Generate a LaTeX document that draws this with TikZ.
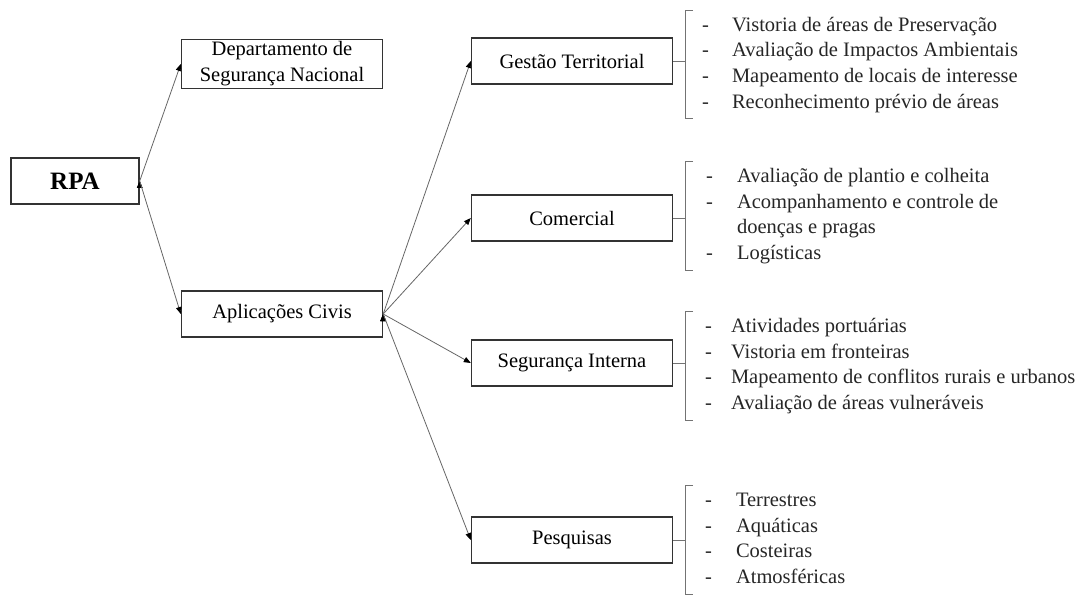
\documentclass[tikz,border=0pt]{standalone}
\usepackage{fontspec}
\setmainfont{Liberation Serif}
\usetikzlibrary{arrows.meta,positioning}

\begin{document}
\begin{tikzpicture}[x=1pt,y=-1pt]

  \tikzset{caixa/.style={rectangle, draw=black!80, line width=1.4pt,
  		text centered, align=center, minimum width=201pt, minimum height=46pt,
  		inner sep=2pt, font=\fontsize{20.5}{26}\selectfont}, }
  \tikzset{lista/.style={anchor=west, inner xsep=0pt, inner ysep=3pt,
  		text=black!85, font=\fontsize{20.5}{25.6}\selectfont}, }
  \tikzset{linea/.style={-{Triangle[length=7pt,width=5.5pt,black]}, draw=black!60, line width=0.8pt}, }
  \tikzset{chave/.style={draw=black!55, line width=0.8pt}, }

  \useasboundingbox (0,0) rectangle (1092,596);

   \node[caixa, minimum width=128pt, font=\bfseries\fontsize{25}{30}\selectfont] (rpa) at (75,181) {RPA};
   \node[caixa] (dsn) at (282,64) {Departamento de\\Segurança Nacional};
   \node[caixa] (civ) at (282,314) {Aplicações Civis};
   \node[caixa] (gt) at (572,61) {Gestão Territorial};
   \node[caixa] (com) at (572,218) {Comercial};
   \node[caixa] (seg) at (572,363) {Segurança Interna};
   \node[caixa] (pesq) at (572,540) {Pesquisas};
%
   \node[lista] (gtl) at (685,64.5) {\begin{tabular}{@{\hspace{17pt}}l@{\hspace{23pt}}l@{}}
     - & Vistoria de áreas de Preservação\\
     - & Avaliação de Impactos Ambientais\\
     - & Mapeamento de locais de interesse\\
     - & Reconhecimento prévio de áreas
   \end{tabular}};
   \node[lista] (coml) at (685,216) {\begin{tabular}{@{\hspace{21pt}}l@{\hspace{24pt}}l@{}}
     - & Avaliação de plantio e colheita\\
     - & Acompanhamento e controle de\\
       & doenças e pragas\\
     - & Logísticas
   \end{tabular}};
   \node[lista] (segl) at (685,366) {\begin{tabular}{@{\hspace{20pt}}l@{\hspace{19pt}}l@{}}
     - & Atividades portuárias\\
     - & Vistoria em fronteiras\\
     - & Mapeamento de conflitos rurais e urbanos\\
     - & Avaliação de áreas vulneráveis
   \end{tabular}};
   \node[lista] (pesl) at (685,540) {\begin{tabular}{@{\hspace{20pt}}l@{\hspace{24pt}}l@{}}
     - & Terrestres\\
     - & Aquáticas\\
     - & Costeiras\\
     - & Atmosféricas
   \end{tabular}};
%
\foreach \x/\y in {rpa/dsn,rpa/civ,civ/gt,civ/com,civ/seg,civ/pesq}
  \path[linea] (\x.east) edge (\y.west);
%
\foreach \b/\l in {gt/gtl,com/coml,seg/segl,pesq/pesl}
  \draw[chave] (\b.east) -- (\b.east -| \l.west)
    ([xshift=8pt]\l.north west) -- (\l.north west) -- (\l.south west) -- ([xshift=8pt]\l.south west);
%
\end{tikzpicture}
\end{document}
